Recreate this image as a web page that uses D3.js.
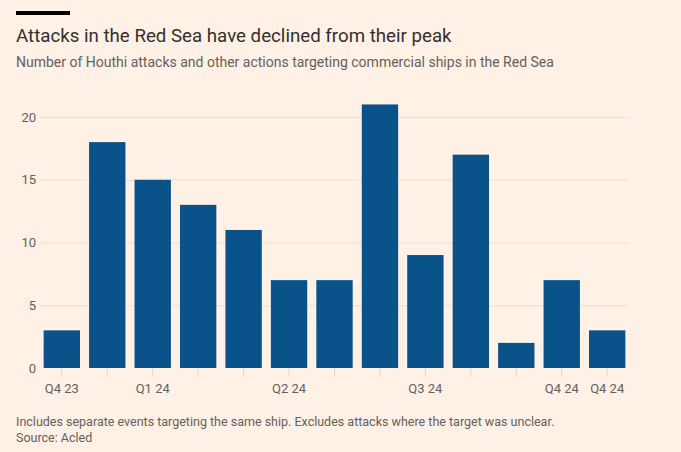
<!DOCTYPE html>
<html lang="en">
<head>
    <script src="https://d3js.org/d3.v7.min.js"></script>
    <style>
        body { margin: 0; background: #fff1e5; }
        svg text { font-family: Roboto, "Noto Sans", sans-serif; }
        .gridlines line { stroke: #f2dfce; }
        .gridlines .domain { stroke: none; }
    </style>
</head>
<body>
    <svg id="chart" width="681" height="452"></svg>
    <script>
        // values
        const values = [3, 18, 15, 13, 11, 7, 7, 21, 9, 17, 2, 7, 3];
        const tickLabels = ["Q4 23", "", "Q1 24", "", "", "Q2 24", "", "", "Q3 24", "", "", "Q4 24", "Q4 24"];
        const yTicks = [0, 5, 10, 15, 20];

        const svg = d3.select("svg#chart");
        const margins = { top: 92, right: 52, bottom: 84, left: 40 };
        const width = +svg.attr("width");
        const height = +svg.attr("height");
        const chartWidth = width - margins.left - margins.right;
        const chartHeight = height - margins.top - margins.bottom;

        svg.append("rect").attr("width", width).attr("height", height).attr("fill", "#fff1e5");

        // header
        svg.append("rect").attr("x", 16).attr("y", 11).attr("width", 54).attr("height", 4).attr("fill", "#000");
        svg.append("text").attr("x", 16).attr("y", 42)
            .attr("font-size", 18.7).attr("fill", "#33302e")
            .text("Attacks in the Red Sea have declined from their peak");
        svg.append("text").attr("x", 16).attr("y", 67)
            .attr("font-size", 14).attr("fill", "#66605c")
            .text("Number of Houthi attacks and other actions targeting commercial ships in the Red Sea");

        const xScale = d3.scaleBand()
            .domain(d3.range(values.length))
            .range([0, chartWidth])
            .paddingInner(0.2)
            .paddingOuter(0.08);

        const yScale = d3.scaleLinear()
            .domain([0, 20])
            .range([chartHeight, chartHeight - 251]);

        const plot = svg.append("g")
            .attr("transform", `translate(${margins.left},${margins.top})`);

        // gridlines
        plot.append("g").attr("class", "gridlines")
            .call(d3.axisLeft(yScale).tickValues(yTicks.slice(1)).tickSize(-chartWidth).tickFormat(""));

        // y labels
        plot.selectAll("text.ylab")
            .data(yTicks)
            .join("text")
            .attr("class", "ylab")
            .attr("x", -4)
            .attr("y", d => yScale(d))
            .attr("dy", "0.35em")
            .attr("text-anchor", "end")
            .attr("font-size", 13)
            .attr("fill", "#66605c")
            .text(d => d);

        // x ticks
        plot.selectAll("line.xtick")
            .data(values)
            .join("line")
            .attr("class", "xtick")
            .attr("x1", (d, i) => xScale(i) + xScale.bandwidth() / 2)
            .attr("x2", (d, i) => xScale(i) + xScale.bandwidth() / 2)
            .attr("y1", chartHeight)
            .attr("y2", chartHeight + 9)
            .attr("stroke", "#e6d6c8");

        plot.selectAll("text.xlab")
            .data(tickLabels)
            .join("text")
            .attr("class", "xlab")
            .attr("x", (d, i) => xScale(i) + xScale.bandwidth() / 2)
            .attr("y", chartHeight + 25)
            .attr("text-anchor", "middle")
            .attr("font-size", 13)
            .attr("fill", "#66605c")
            .text(d => d);

        // bars
        plot.selectAll("rect.bar")
            .data(values)
            .join("rect")
            .attr("class", "bar")
            .attr("x", (d, i) => xScale(i))
            .attr("y", d => yScale(d))
            .attr("width", xScale.bandwidth())
            .attr("height", d => chartHeight - yScale(d))
            .attr("fill", "#0a528a");

        // footer
        svg.append("text").attr("x", 16).attr("y", 426)
            .attr("font-size", 12.5).attr("fill", "#66605c")
            .text("Includes separate events targeting the same ship. Excludes attacks where the target was unclear.");
        svg.append("text").attr("x", 16).attr("y", 442)
            .attr("font-size", 12.5).attr("fill", "#66605c")
            .text("Source: Acled");
    </script>
</body>
</html>
